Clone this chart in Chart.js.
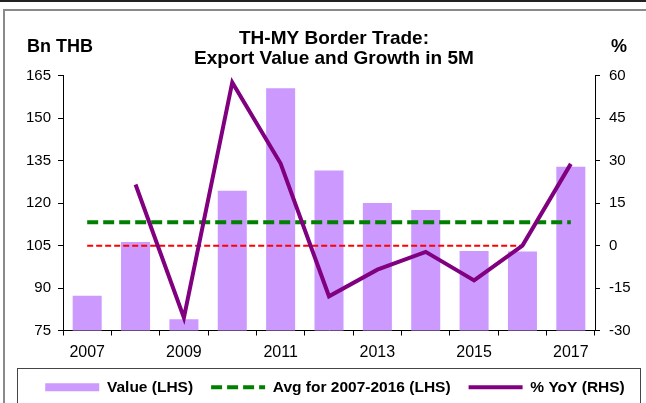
<!DOCTYPE html>
<html>
<head>
<meta charset="utf-8">
<script src="https://cdn.jsdelivr.net/npm/chart.js@4.4.0/dist/chart.umd.min.js"></script>
<style>
  html, body { margin: 0; padding: 0; background: #fff; }
</style>
</head>
<body>
<canvas id="myChart" width="646" height="403"></canvas>
<script>
const years = ['2007', '2008', '2009', '2010', '2011', '2012', '2013', '2014', '2015', '2016', '2017']
const exportValue = [87.3, 106.3, 79.0, 124.4, 160.6, 131.6, 120.1, 117.6, 103.1, 102.9, 132.9]
const avgValue = [113.3, 113.3, 113.3, 113.3, 113.3, 113.3, 113.3, 113.3, 113.3, 113.3, 113.3]
const yoyGrowth = [null, 21.6, -25.5, 57.7, 29.0, -17.9, -8.5, -2.2, -12.3, 0.0, 28.9]
const zeroLine = [0, 0, 0, 0, 0, 0, 0, 0, 0, 0, null]
const leftRange = { min: 75, max: 165, step: 15 }
const rightRange = { min: -30, max: 60, step: 15 }

Chart.defaults.font.family = "'Liberation Sans', Arial, sans-serif"
Chart.defaults.color = '#000'

// frame, legend box and the unit labels
const decorations = {
  id: 'decorations',
  afterLayout(chart) {
    // title and legend rows sit right of the canvas centre in the original
    chart.titleBlock.left += 6
    chart.titleBlock.right += 6
    chart.legend.left += 7
    chart.legend.right += 7
  },
  beforeDraw(chart) {
    const ctx = chart.ctx
    ctx.save()
    ctx.fillStyle = '#fff'
    ctx.fillRect(0, 0, chart.width, chart.height)
    ctx.strokeStyle = '#222'
    ctx.lineWidth = 2
    ctx.beginPath()
    ctx.moveTo(0, 1)
    ctx.lineTo(chart.width, 1)
    ctx.stroke()
    ctx.strokeStyle = '#8a8a8a'
    ctx.beginPath()
    ctx.moveTo(4, chart.height)
    ctx.lineTo(4, 10)
    ctx.lineTo(chart.width, 10)
    ctx.stroke()
    ctx.strokeStyle = '#444'
    ctx.lineWidth = 1
    ctx.strokeRect(17.5, 368.5, 623, 50)
    ctx.restore()
  },
  afterDraw(chart) {
    const ctx = chart.ctx
    ctx.save()
    ctx.font = "bold 18px 'Liberation Sans', Arial, sans-serif"
    ctx.fillStyle = '#000'
    ctx.textAlign = 'center'
    ctx.textBaseline = 'middle'
    ctx.fillText('Bn THB', 60, 47)
    ctx.fillText('%', 619, 47)
    ctx.restore()
  }
}

const ctx = document.getElementById('myChart')
new Chart(ctx, {
  type: 'bar',
  data: {
    labels: years,
    datasets: [
      {
        type: 'bar',
        label: 'Value (LHS)',
        data: exportValue,
        backgroundColor: '#CC99FF',
        borderWidth: 0,
        barPercentage: 0.6,
        categoryPercentage: 1.0,
        yAxisID: 'y',
        order: 4
      },
      {
        type: 'line',
        label: 'Avg for 2007-2016 (LHS)',
        data: avgValue,
        borderColor: '#008000',
        backgroundColor: '#008000',
        borderWidth: 4,
        borderDash: [11, 5],
        pointRadius: 0,
        yAxisID: 'y',
        order: 2
      },
      {
        type: 'line',
        label: '% YoY (RHS)',
        data: yoyGrowth,
        borderColor: '#800080',
        backgroundColor: '#800080',
        borderWidth: 4,
        pointRadius: 0,
        tension: 0,
        yAxisID: 'y1',
        order: 1
      },
      {
        type: 'line',
        label: '',
        data: zeroLine,
        borderColor: '#FF0000',
        borderWidth: 2,
        borderDash: [6, 3],
        pointRadius: 0,
        yAxisID: 'y1',
        order: 3
      }
    ]
  },
  options: {
    responsive: false,
    animation: false,
    devicePixelRatio: 1,
    layout: { padding: { left: 10, right: 0, top: 0, bottom: -2 } },
    plugins: {
      tooltip: { enabled: false },
      title: {
        display: true,
        text: ['TH-MY Border Trade:', 'Export Value and Growth in 5M'],
        color: '#000',
        font: { size: 19, weight: 'bold', lineHeight: 1.05 },
        padding: { top: 29, bottom: 7 }
      },
      legend: {
        position: 'bottom',
        labels: {
          usePointStyle: true,
          pointStyleWidth: 54,
          boxHeight: 8,
          padding: 18,
          color: '#000',
          font: { size: 15.5, weight: 'bold' },
          generateLabels: chart => chart.data.datasets
            .map((ds, i) => ({
              text: ds.label,
              datasetIndex: i,
              hidden: false,
              fillStyle: ds.type === 'bar' ? ds.backgroundColor : 'transparent',
              strokeStyle: ds.borderColor,
              lineWidth: ds.type === 'line' ? ds.borderWidth : 0,
              lineDash: ds.borderDash || [],
              pointStyle: ds.type === 'line' ? 'line' : 'rect',
              fontColor: '#000'
            }))
            .filter(item => item.text)
        }
      }
    },
    scales: {
      x: {
        offset: true,
        grid: { offset: true, drawOnChartArea: false, tickLength: 5, color: '#000' },
        border: { color: '#000' },
        ticks: {
          autoSkip: false,
          maxRotation: 0,
          padding: 7,
          font: { size: 16 },
          callback: (value, index) => index % 2 === 0 ? years[index] : ''
        },
        afterFit: scale => { scale.height = 31 }
      },
      y: {
        position: 'left',
        min: leftRange.min,
        max: leftRange.max,
        ticks: { stepSize: leftRange.step, padding: 7, font: { size: 15 } },
        grid: { drawOnChartArea: false, tickLength: 5, color: '#000' },
        border: { color: '#000' },
        afterFit: scale => { scale.width = 53 }
      },
      y1: {
        position: 'right',
        min: rightRange.min,
        max: rightRange.max,
        ticks: { stepSize: rightRange.step, padding: 9, font: { size: 15 } },
        grid: { drawOnChartArea: false, tickLength: 5, color: '#000' },
        border: { color: '#000' },
        afterFit: scale => { scale.width = 51 }
      }
    }
  },
  plugins: [decorations]
})
</script>
</body>
</html>
